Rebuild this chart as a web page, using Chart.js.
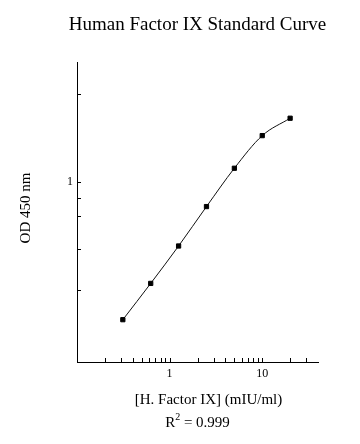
<!DOCTYPE html>
<html>
<head>
<meta charset="utf-8">
<script src="https://cdn.jsdelivr.net/npm/chart.js@4/dist/chart.umd.min.js"></script>
<style>
  body { margin: 0; background: #fff; }
  canvas { display: block; }
</style>
</head>
<body>
<canvas id="graph" width="360" height="444"></canvas>
<script>
// standard concentrations (mIU/ml) and measured OD
const concentrations = [0.3125, 0.625, 1.25, 2.5, 5, 10, 20];
const odValues = [0.413, 0.521, 0.662, 0.852, 1.089, 1.342, 1.500];

// tick marks, only some of them get a label
const xTickValues = [0.2, 0.3, 0.4, 0.5, 0.6, 0.7, 0.8, 0.9, 1, 2, 3, 4, 5, 6, 7, 8, 9, 10, 20, 30];
const xTickLabels = [1, 10];
const yTickValues = [0.5, 0.65, 0.8, 0.9, 1, 1.75];
const yTickLabels = [1];

const xMin = 0.1, xMax = 40;
const yMin = 0.315, yMax = 2.15;

const chartTitle = "Human Factor IX Standard Curve";
const xTitle = "[H. Factor IX] (mIU/ml)";
const yTitle = "OD 450 nm";
const rSquared = "0.999";

const serif = "'Liberation Serif', 'Times New Roman', serif";
const graphCanvas = document.getElementById("graph");
const graphContext = graphCanvas.getContext("2d");

// ticks point inward from the axis lines
const inwardTicks = {
    id: "inwardTicks",
    afterDraw(chart) {
        const ctx = chart.ctx;
        const xs = chart.scales.x;
        const ys = chart.scales.y;
        ctx.save();
        ctx.strokeStyle = "#000";
        ctx.lineWidth = 1;
        ctx.beginPath();
        xs.ticks.forEach(t => {
            const px = Math.round(xs.getPixelForValue(t.value)) + 0.5;
            ctx.moveTo(px, xs.top);
            ctx.lineTo(px, xs.top - 4);
        });
        ys.ticks.forEach(t => {
            const py = Math.round(ys.getPixelForValue(t.value)) + 0.5;
            ctx.moveTo(ys.right, py);
            ctx.lineTo(ys.right + 4, py);
        });
        ctx.stroke();
        ctx.restore();
    }
};

// title, axis titles and the R squared line
const textLayer = {
    id: "textLayer",
    afterDraw(chart) {
        const ctx = chart.ctx;
        const area = chart.chartArea;
        const midX = (area.left + area.right) / 2;
        ctx.save();
        ctx.fillStyle = "#000";
        ctx.textAlign = "center";
        ctx.textBaseline = "alphabetic";

        ctx.font = "19px " + serif;
        ctx.fillText(chartTitle, midX, 30);

        ctx.font = "15px " + serif;
        ctx.fillText(xTitle, midX + 11, 404);

        // R^2 = ...
        const rest = " = " + rSquared;
        const wR = ctx.measureText("R").width;
        const wRest = ctx.measureText(rest).width;
        ctx.font = "10px " + serif;
        const w2 = ctx.measureText("2").width;
        const x0 = midX - (wR + w2 + wRest) / 2;
        ctx.textAlign = "left";
        ctx.font = "15px " + serif;
        ctx.fillText("R", x0, 427);
        ctx.font = "10px " + serif;
        ctx.fillText("2", x0 + wR, 420);
        ctx.font = "15px " + serif;
        ctx.fillText(rest, x0 + wR + w2, 427);

        ctx.textAlign = "center";
        ctx.translate(30, (area.top + area.bottom) / 2 - 4);
        ctx.rotate(-Math.PI / 2);
        ctx.fillText(yTitle, 0, 0);
        ctx.restore();
    }
};

new Chart(graphContext, {
    type: "scatter",
    data: {
        datasets: [{
            data: concentrations.map((c, i) => ({ x: c, y: odValues[i] })),
            showLine: true,
            borderColor: "#111",
            borderWidth: 1,
            cubicInterpolationMode: "monotone",
            pointStyle: "rect",
            pointRadius: 3,
            pointBorderWidth: 1,
            pointBackgroundColor: "#000",
            pointBorderColor: "#000",
        }],
    },
    options: {
        responsive: false,
        animation: false,
        layout: { padding: { top: 62, right: 42, bottom: 0, left: 0 } },
        plugins: {
            legend: { display: false },
            tooltip: { enabled: false },
        },
        scales: {
            x: {
                type: "logarithmic",
                position: "bottom",
                min: xMin,
                max: xMax,
                // chart.js rounds the log bounds, put them back
                afterBuildTicks: scale => {
                    scale.ticks = xTickValues.map(v => ({ value: v }));
                    scale.min = xMin;
                    scale.max = xMax;
                },
                afterFit: scale => { scale.height = 82; },
                ticks: {
                    autoSkip: false,
                    maxRotation: 0,
                    padding: 5,
                    color: "#000",
                    font: { family: serif, size: 12 },
                    callback: v => xTickLabels.includes(v) ? String(v) : "",
                },
                grid: { drawOnChartArea: false, drawTicks: false },
                border: { display: true, color: "#000", width: 1 },
            },
            y: {
                type: "logarithmic",
                position: "left",
                min: yMin,
                max: yMax,
                afterBuildTicks: scale => {
                    scale.ticks = yTickValues.map(v => ({ value: v }));
                    scale.min = yMin;
                    scale.max = yMax;
                },
                afterFit: scale => { scale.width = 77; },
                ticks: {
                    autoSkip: false,
                    padding: 4,
                    color: "#000",
                    font: { family: serif, size: 12 },
                    callback: v => yTickLabels.includes(v) ? String(v) : "",
                },
                grid: { drawOnChartArea: false, drawTicks: false },
                border: { display: true, color: "#000", width: 1 },
            },
        },
    },
    plugins: [inwardTicks, textLayer],
});
</script>
</body>
</html>
